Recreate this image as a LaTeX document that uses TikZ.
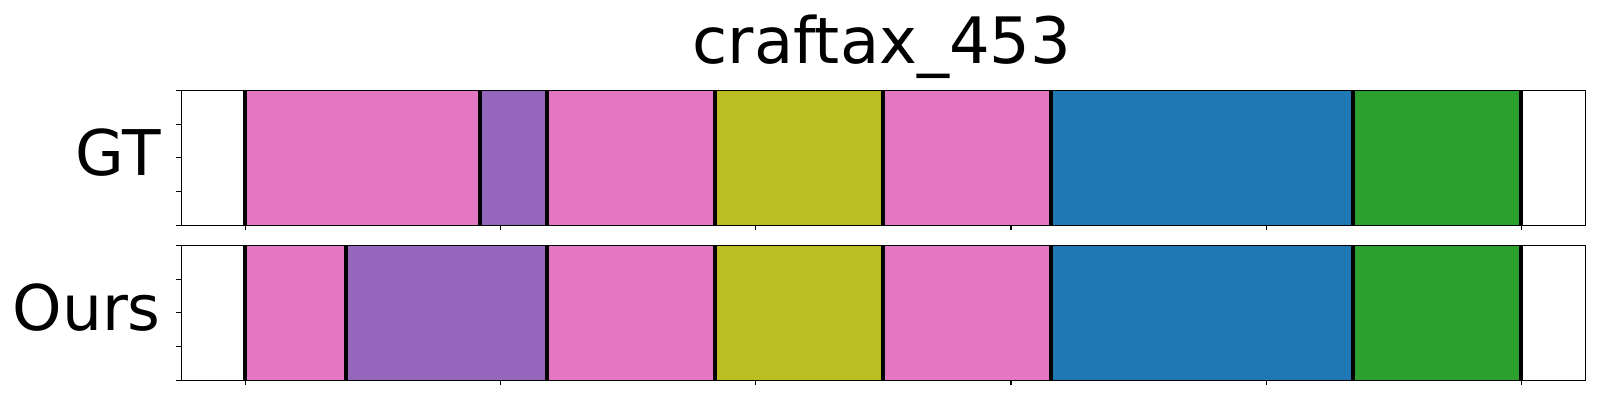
\documentclass[tikz,border=0pt]{standalone}
\usepackage{fontspec}
\setmainfont{DejaVu Sans}
\definecolor{tpink}{HTML}{E377C2}
\definecolor{tpurple}{HTML}{9467BD}
\definecolor{tolive}{HTML}{BCBD22}
\definecolor{tblue}{HTML}{1F77B4}
\definecolor{tgreen}{HTML}{2CA02C}
\begin{document}
\begin{tikzpicture}[x=1pt,y=-1pt,
  bnd/.style={line width=4pt,black},
  axframe/.style={line width=1.5pt,black},
  tickmark/.style={line width=1.1pt,black},
  lab/.style={font=\fontsize{63}{66}\selectfont,inner sep=0pt},
  ttl/.style={font=\fontsize{64}{67}\selectfont,inner sep=0pt}]
\useasboundingbox (0,0) rectangle (1600,400);
\fill[white] (0,0) rectangle (1600,400);
% GT segments
\foreach \a/\b/\c in {244.7/480/tpink,480/547/tpurple,547/715.2/tpink,715.2/882.7/tolive,882.7/1051/tpink,1051/1353/tblue,1353/1521/tgreen}
  \fill[\c] (\a,90.3) rectangle (\b,225.3);
% Ours segments
\foreach \a/\b/\c in {244.7/345.7/tpink,345.7/547/tpurple,547/715.2/tpink,715.2/882.7/tolive,882.7/1051/tpink,1051/1353/tblue,1353/1521/tgreen}
  \fill[\c] (\a,245.3) rectangle (\b,380.3);
% boundaries
\foreach \x in {244.7,480,547,715.2,882.7,1051,1353,1521}
  \draw[bnd] (\x,90.3) -- (\x,225.3);
\foreach \x in {244.7,345.7,547,715.2,882.7,1051,1353,1521}
  \draw[bnd] (\x,245.3) -- (\x,380.3);
% frames
\draw[axframe] (181.3,90.3) rectangle (1585.7,225.3);
\draw[axframe] (181.3,245.3) rectangle (1585.7,380.3);
% y ticks
\foreach \y in {0,1,2,3,4} {
  \draw[tickmark] (181.3,90.3+33.75*\y) -- (176.4,90.3+33.75*\y);
  \draw[tickmark] (181.3,245.3+33.75*\y) -- (176.4,245.3+33.75*\y);
}
% x ticks
\foreach \x in {245.7,500.8,755.9,1011,1266.1,1521.2} {
  \draw[tickmark] (\x,225.3) -- (\x,230.2);
  \draw[tickmark] (\x,380.3) -- (\x,385.2);
}
\node[ttl,anchor=base] (title) at (882,63.3) {craftax\_453};
\node[lab,anchor=base east] (gt) at (161,175) {GT};
\node[lab,anchor=base east] (ours) at (161,330.5) {Ours};
\end{tikzpicture}
\end{document}
